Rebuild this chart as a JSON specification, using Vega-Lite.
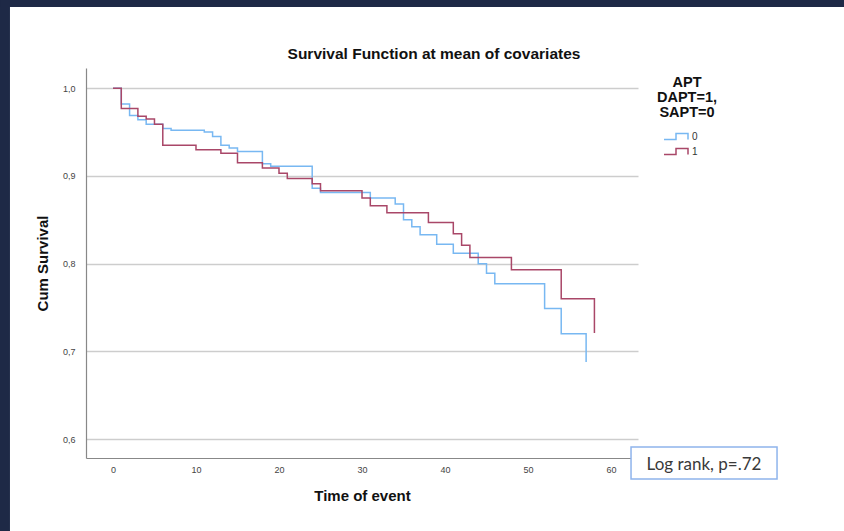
{
  "$schema": "https://vega.github.io/schema/vega-lite/v6.json",
  "width": 552,
  "height": 390,
  "autosize": {"type": "none"},
  "padding": {"left": 86, "top": 68, "right": 206, "bottom": 73},
  "background": "white",
  "title": {
    "text": "Survival Function at mean of covariates",
    "anchor": "middle",
    "frame": "group",
    "dx": 72,
    "offset": -74,
    "baseline": "alphabetic",
    "font": "Liberation Sans",
    "fontSize": 15.5,
    "fontWeight": "bold",
    "color": "#111111"
  },
  "config": {"view": {"stroke": null}},
  "layer": [
    {
      "data": {"values": [{"part": "left"}]},
      "mark": {"type": "rect", "color": "#1e2946", "clip": false},
      "encoding": {
        "x": {"datum": -13.61, "type": "quantitative", "scale": {"domain": [-3.25, 63.25], "nice": false, "zero": false}},
        "x2": {"datum": -12.41},
        "y": {"datum": 1.1006, "type": "quantitative", "scale": {"domain": [0.5784, 1.0231], "nice": false, "zero": false}},
        "y2": {"datum": 0.4952}
      }
    },
    {
      "data": {"values": [{"part": "top"}]},
      "mark": {"type": "rect", "color": "#1e2946", "clip": false},
      "encoding": {
        "x": {"datum": -13.61, "type": "quantitative", "scale": {"domain": [-3.25, 63.25], "nice": false, "zero": false}},
        "x2": {"datum": 88.07},
        "y": {"datum": 1.1006, "type": "quantitative", "scale": {"domain": [0.5784, 1.0231], "nice": false, "zero": false}},
        "y2": {"datum": 1.0927}
      }
    },
    {
      "data": {
        "values": [
          {"time": 0, "survival": 1.0, "group": "0"},
          {"time": 1, "survival": 0.982, "group": "0"},
          {"time": 2, "survival": 0.969, "group": "0"},
          {"time": 3, "survival": 0.964, "group": "0"},
          {"time": 4, "survival": 0.959, "group": "0"},
          {"time": 6, "survival": 0.954, "group": "0"},
          {"time": 7, "survival": 0.952, "group": "0"},
          {"time": 11, "survival": 0.95, "group": "0"},
          {"time": 12, "survival": 0.945, "group": "0"},
          {"time": 13, "survival": 0.935, "group": "0"},
          {"time": 14, "survival": 0.932, "group": "0"},
          {"time": 15, "survival": 0.928, "group": "0"},
          {"time": 18, "survival": 0.914, "group": "0"},
          {"time": 19, "survival": 0.911, "group": "0"},
          {"time": 24, "survival": 0.886, "group": "0"},
          {"time": 25, "survival": 0.881, "group": "0"},
          {"time": 31, "survival": 0.875, "group": "0"},
          {"time": 34, "survival": 0.868, "group": "0"},
          {"time": 35, "survival": 0.85, "group": "0"},
          {"time": 36, "survival": 0.842, "group": "0"},
          {"time": 37, "survival": 0.833, "group": "0"},
          {"time": 39, "survival": 0.822, "group": "0"},
          {"time": 41, "survival": 0.812, "group": "0"},
          {"time": 44, "survival": 0.8, "group": "0"},
          {"time": 45, "survival": 0.789, "group": "0"},
          {"time": 46, "survival": 0.777, "group": "0"},
          {"time": 52, "survival": 0.749, "group": "0"},
          {"time": 54, "survival": 0.72, "group": "0"},
          {"time": 57, "survival": 0.688, "group": "0"},
          {"time": 0, "survival": 1.0, "group": "1"},
          {"time": 1, "survival": 0.977, "group": "1"},
          {"time": 3, "survival": 0.968, "group": "1"},
          {"time": 4, "survival": 0.965, "group": "1"},
          {"time": 5, "survival": 0.959, "group": "1"},
          {"time": 6, "survival": 0.935, "group": "1"},
          {"time": 10, "survival": 0.93, "group": "1"},
          {"time": 13, "survival": 0.926, "group": "1"},
          {"time": 15, "survival": 0.915, "group": "1"},
          {"time": 18, "survival": 0.909, "group": "1"},
          {"time": 20, "survival": 0.903, "group": "1"},
          {"time": 21, "survival": 0.897, "group": "1"},
          {"time": 24, "survival": 0.891, "group": "1"},
          {"time": 25, "survival": 0.883, "group": "1"},
          {"time": 30, "survival": 0.875, "group": "1"},
          {"time": 31, "survival": 0.866, "group": "1"},
          {"time": 33, "survival": 0.858, "group": "1"},
          {"time": 38, "survival": 0.847, "group": "1"},
          {"time": 41, "survival": 0.834, "group": "1"},
          {"time": 42, "survival": 0.821, "group": "1"},
          {"time": 43, "survival": 0.807, "group": "1"},
          {"time": 48, "survival": 0.793, "group": "1"},
          {"time": 54, "survival": 0.76, "group": "1"},
          {"time": 58, "survival": 0.721, "group": "1"}
        ]
      },
      "mark": {"type": "line", "interpolate": "step-after", "strokeWidth": 1.5},
      "encoding": {
        "x": {
          "field": "time",
          "type": "quantitative",
          "scale": {"domain": [-3.25, 63.25], "nice": false, "zero": false},
          "axis": {
            "title": "Time of event",
            "values": [0, 10, 20, 30, 40, 50, 60],
            "grid": false,
            "ticks": false,
            "domainColor": "#888888",
            "domainWidth": 1.2,
            "labelFont": "Liberation Sans",
            "labelFontSize": 9,
            "labelColor": "#444444",
            "labelPadding": 7,
            "titleFont": "Liberation Sans",
            "titleFontSize": 15,
            "titleFontWeight": "bold",
            "titleColor": "#111111",
            "titlePadding": 14
          }
        },
        "y": {
          "field": "survival",
          "type": "quantitative",
          "scale": {"domain": [0.5784, 1.0231], "nice": false, "zero": false},
          "axis": {
            "title": "Cum Survival",
            "values": [0.6, 0.7, 0.8, 0.9, 1.0],
            "labelExpr": "replace(format(datum.value, '.1f'), '.', ',')",
            "grid": true,
            "gridColor": "#cdcdcd",
            "gridWidth": 1.5,
            "ticks": false,
            "domainColor": "#888888",
            "domainWidth": 1.2,
            "labelFont": "Liberation Sans",
            "labelFontSize": 9,
            "labelColor": "#444444",
            "labelPadding": 11,
            "titleFont": "Liberation Sans",
            "titleFontSize": 15,
            "titleFontWeight": "bold",
            "titleColor": "#111111",
            "titlePadding": 12
          }
        },
        "color": {
          "field": "group",
          "type": "nominal",
          "scale": {"domain": ["0", "1"], "range": ["#78b8f2", "#a94768"]},
          "legend": {
            "orient": "none",
            "legendX": 571,
            "legendY": 8,
            "title": ["APT", "DAPT=1,", "SAPT=0"],
            "titleFont": "Liberation Sans",
            "titleFontSize": 14.5,
            "titleFontWeight": "bold",
            "titleColor": "#111111",
            "titleAlign": "center",
            "titleAnchor": "middle",
            "titleLineHeight": 15,
            "titlePadding": 9,
            "symbolType": "M-2,0.5H0V-0.5H2V0.5",
            "symbolSize": 144,
            "symbolStrokeWidth": 1.5,
            "symbolFillColor": "transparent",
            "symbolOffset": -8,
            "labelOffset": 9,
            "labelFont": "Liberation Sans",
            "labelFontSize": 10,
            "labelColor": "#333333",
            "rowPadding": 2
          }
        }
      }
    },
    {
      "data": {"values": [{"part": "box"}]},
      "mark": {"type": "rect", "fill": "white", "stroke": "#8fb4ec", "strokeWidth": 1.5, "clip": false},
      "encoding": {
        "x": {"datum": 62.41, "type": "quantitative", "scale": {"domain": [-3.25, 63.25], "nice": false, "zero": false}},
        "x2": {"datum": 80.0},
        "y": {"datum": 0.5909, "type": "quantitative", "scale": {"domain": [0.5784, 1.0231], "nice": false, "zero": false}},
        "y2": {"datum": 0.5545}
      }
    },
    {
      "data": {"values": [{"note": "Log rank, p=.72"}]},
      "mark": {"type": "text", "font": "Lato", "fontSize": 17, "color": "#3a3a3a", "align": "center", "baseline": "middle", "clip": false},
      "encoding": {
        "text": {"field": "note", "type": "nominal"},
        "x": {"datum": 71.2, "type": "quantitative", "scale": {"domain": [-3.25, 63.25], "nice": false, "zero": false}},
        "y": {"datum": 0.5704, "type": "quantitative", "scale": {"domain": [0.5784, 1.0231], "nice": false, "zero": false}}
      }
    }
  ]
}
